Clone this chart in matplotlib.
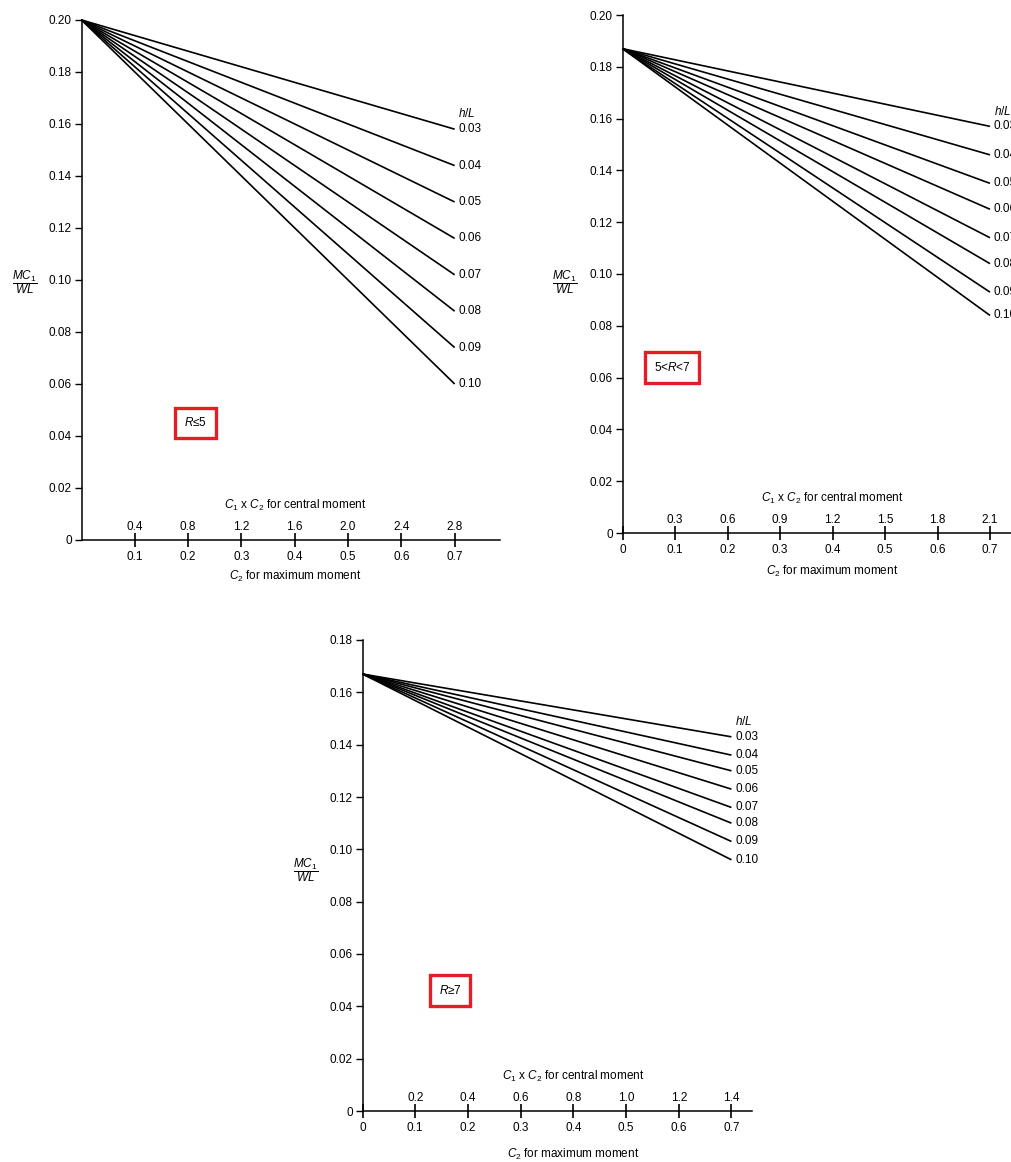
import numpy as np
import matplotlib
matplotlib.use('Agg')
import matplotlib.pyplot as plt

plt.rcParams['font.family'] = ['Liberation Sans', 'DejaVu Sans']
plt.rcParams['mathtext.fontset'] = 'custom'
plt.rcParams['mathtext.rm'] = 'Liberation Sans'
plt.rcParams['mathtext.it'] = 'Liberation Sans:italic'
plt.rcParams['mathtext.bf'] = 'Liberation Sans:bold'

# h/L curve labels (same for all three charts)
hl_labels = ['0.03', '0.04', '0.05', '0.06', '0.07', '0.08', '0.09', '0.10']

# C2 positions of the lower tick row
c2_ticks = [0.1, 0.2, 0.3, 0.4, 0.5, 0.6, 0.7]

# chart 1: R <= 5
r5_start = 0.200
r5_end = [0.158, 0.144, 0.130, 0.116, 0.102, 0.088, 0.074, 0.060]
r5_central = ['0.4', '0.8', '1.2', '1.6', '2.0', '2.4', '2.8']

# chart 2: 5 < R < 7
r57_start = 0.187
r57_end = [0.157, 0.146, 0.135, 0.125, 0.114, 0.104, 0.093, 0.084]
r57_central = ['0.3', '0.6', '0.9', '1.2', '1.5', '1.8', '2.1']

# chart 3: R >= 7
r7_start = 0.167
r7_end = [0.143, 0.136, 0.130, 0.123, 0.116, 0.110, 0.103, 0.096]
r7_central = ['0.2', '0.4', '0.6', '0.8', '1.0', '1.2', '1.4']

x_end = 0.7
red = '#e41e26'
fs = 8.5

fig = plt.figure(figsize=(10.11, 11.62), dpi=100)


def draw_panel(rect, xmax, ymax, start, ends, central, tag, tag_xy,
               zero_label, xlabel_off, ylab_x, ylab_y):
    ax = fig.add_axes(rect)
    for y1 in ends:
        ax.plot([0, x_end], [start, y1], color='black', lw=1.2,
                solid_capstyle='butt', clip_on=False)
    for lab, y1 in zip(hl_labels, ends):
        ax.text(x_end + 0.007, y1, lab, fontsize=fs, va='center', ha='left')
    ax.annotate('$h/L$', xy=(x_end + 0.007, ends[0]), xytext=(0, 11),
                textcoords='offset points', fontsize=fs, va='center', ha='left')

    ax.set_xlim(0, xmax)
    ax.set_ylim(0, ymax)
    for s in ['top', 'right']:
        ax.spines[s].set_visible(False)
    for s in ['left', 'bottom']:
        ax.spines[s].set_linewidth(1.1)

    yt = np.round(np.arange(0, ymax + 0.001, 0.02), 2)
    ax.set_yticks(yt)
    ax.set_yticklabels(['0'] + ['%.2f' % v for v in yt[1:]])
    ax.tick_params(axis='y', direction='out', length=5, width=1.0,
                   labelsize=fs, pad=2)

    if zero_label:
        ax.set_xticks([0] + c2_ticks)
        ax.set_xticklabels(['0'] + ['%.1f' % v for v in c2_ticks])
    else:
        ax.set_xticks(c2_ticks)
        ax.set_xticklabels(['%.1f' % v for v in c2_ticks])
    ax.tick_params(axis='x', direction='inout', length=10, width=1.2,
                   labelsize=fs, pad=3)

    for xv, lab in zip(c2_ticks, central):
        ax.annotate(lab, xy=(xv, 0), xytext=(0, 9.5), textcoords='offset points',
                    fontsize=fs, ha='center', va='center')
    ax.annotate('$C_1$ x $C_2$ for central moment', xy=(0.40, 0), xytext=(0, 25),
                textcoords='offset points', fontsize=fs, ha='center', va='center')
    ax.annotate('$C_2$ for maximum moment', xy=(0.40, 0), xytext=(0, -xlabel_off),
                textcoords='offset points', fontsize=fs, ha='center', va='center')

    ax.text(tag_xy[0], tag_xy[1], tag, fontsize=fs, ha='center', va='center',
            bbox=dict(boxstyle='square,pad=0.75', fc='white', ec=red, lw=2.4))

    ax.annotate(r'$\dfrac{MC_1}{WL}$', xy=(0, ylab_y), xycoords='data',
                xytext=(ylab_x, 0), textcoords='offset points',
                fontsize=fs, ha='center', va='center')
    return ax


draw_panel([81.5 / 1011, 1 - 540 / 1162, 418.5 / 1011, 520 / 1162],
           0.785, 0.20, r5_start, r5_end, r5_central, '$R$≤5', (0.214, 0.045),
           False, 26, -41, 0.099)
draw_panel([622.5 / 1011, 1 - 533 / 1162, 388.5 / 1011, 518 / 1162],
           0.74, 0.20, r57_start, r57_end, r57_central, '5<$R$<7', (0.094, 0.064),
           True, 27.5, -42, 0.097)
draw_panel([362.5 / 1011, 1 - 1111 / 1162, 389.5 / 1011, 471 / 1162],
           0.739, 0.18, r7_start, r7_end, r7_central, '$R$≥7', (0.166, 0.046),
           True, 31, -41, 0.092)

fig.savefig('out.png', dpi=100)
